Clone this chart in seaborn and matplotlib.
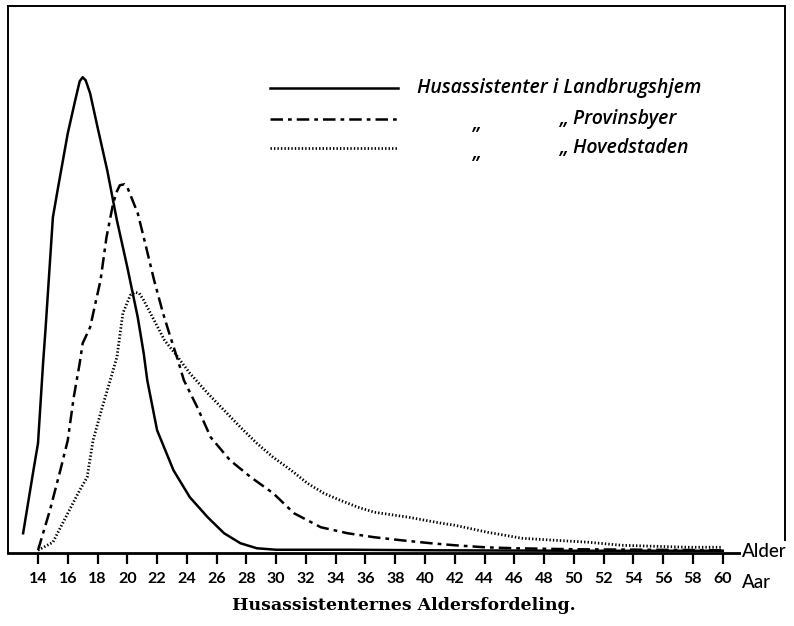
import pandas as pd
import numpy as np
import matplotlib.pyplot as plt
import seaborn as sns

# Values (relative frequency, arbitrary units)
land_age = [13.0, 13.66, 14.0, 14.34, 14.5, 15.0, 15.35, 16.0, 16.5, 16.8, 17.0, 17.2, 17.5,
            18.0, 18.65, 19.3, 20.0, 20.7, 21.1, 21.34, 22.0, 23.1, 24.2, 25.4, 26.5,
            27.6, 28.7, 30.0, 35.0, 40.0, 50.0, 60.0]
land_val = [18, 78, 108, 188, 221, 334, 364, 418, 451, 470, 474, 471, 458,
            424, 381, 331, 284, 234, 198, 171, 121, 81, 54, 34, 18,
            8, 3, 1.5, 1.5, 1, 0.5, 0.5]

prov_age = [14.0, 14.8, 15.5, 16.0, 16.4, 16.8, 17.0, 17.5, 18.2, 18.6, 19.05, 19.3, 19.5,
            19.8, 20.0, 20.7, 21.2, 21.8, 22.4, 22.9, 23.4, 23.8, 24.7, 25.6, 26.9,
            28.3, 29.8, 31.2, 33.0, 34.8, 36.6, 38.4, 40.4, 42.0, 44.0, 46.0, 50.0,
            55.0, 60.0]
prov_val = [1, 41, 81, 111, 154, 188, 208, 224, 271, 314, 348, 360, 366,
            367, 364, 338, 308, 271, 238, 214, 191, 171, 144, 114, 91,
            74, 58, 38, 24, 18, 14, 11, 8, 6, 4, 3, 2,
            1.5, 1]

hov_age = [14.0, 15.0, 16.0, 16.8, 17.3, 17.7, 18.2, 18.85, 19.3, 19.7, 20.2, 20.5, 20.8,
           21.1, 21.8, 22.5, 23.4, 24.2, 25.4, 26.5, 27.6, 28.7, 29.8, 31.0, 32.1,
           33.2, 34.3, 35.5, 36.6, 38.9, 41.1, 42.0, 44.2, 46.5, 48.7, 51.0, 53.2,
           55.4, 57.7, 60.0]
hov_val = [1, 9, 38, 61, 74, 111, 138, 171, 194, 238, 256, 259, 258,
           251, 231, 211, 194, 178, 158, 141, 124, 108, 94, 81, 68,
           58, 51, 44, 39, 34, 28, 26, 19, 13, 11, 9, 6,
           5, 4, 4]

ticks = list(range(14, 61, 2))

DASHDOT = (0, (5, 2, 1.5, 2))
DOTTED = (0, (0.5, 0.75))

fig = plt.figure(figsize=(7.94, 6.26), dpi=100)
ax = fig.add_axes([0.010, 0.117, 0.979, 0.873])

sns.lineplot(x=land_age, y=land_val, ax=ax, color="black", lw=1.8,
             linestyle="-", sort=False)
sns.lineplot(x=prov_age, y=prov_val, ax=ax, color="black", lw=1.8,
             linestyle=DASHDOT, sort=False)
sns.lineplot(x=hov_age, y=hov_val, ax=ax, color="black", lw=2.0,
             linestyle=DOTTED, sort=False)

ax.set_xlim(11.98, 64.2)
ax.set_ylim(-1.5, 545)
ax.set_yticks([])
ax.set_xticks(ticks)
ax.set_xticklabels([str(t) for t in ticks], fontsize=11.5, fontweight="bold",
                   family="Lato")
ax.tick_params(axis="x", direction="out", length=8, width=1.6, pad=6)
for s in ax.spines.values():
    s.set_linewidth(1.4)
ax.spines["bottom"].set_linewidth(2)

# "Alder" breaks the baseline at the right end, "Aar" after the tick labels
ax.text(61.3, 0, "Alder", fontsize=13.5, family="Lato", fontweight="medium",
        ha="left", va="center", bbox=dict(fc="white", ec="none", pad=1.0),
        clip_on=False, zorder=5)
ax.text(61.3, -31, "Aar", fontsize=13.5, family="Lato", fontweight="medium",
        ha="left", va="center", clip_on=False)

# legend, drawn by hand to keep the ditto marks
leg_y = [0.850, 0.793, 0.740]
leg_styles = [("-", 1.8), (DASHDOT, 1.8), (DOTTED, 2.0)]
for yy, (ls, lw) in zip(leg_y, leg_styles):
    ax.plot([0.337, 0.502], [yy, yy], transform=ax.transAxes, color="black",
            linestyle=ls, lw=lw)
tkw = dict(transform=ax.transAxes, fontsize=14, family="Open Sans",
           style="italic", fontweight="semibold", va="center")
ax.text(0.526, leg_y[0], "Husassistenter i Landbrugshjem", ha="left", **tkw)
for yy, name in zip(leg_y[1:], ["Provinsbyer", "Hovedstaden"]):
    ax.text(0.604, yy - 0.008, "\u201e", ha="center", **tkw)
    ax.text(0.710, yy, "\u201e " + name, ha="left", **tkw)

fig.text(0.508, 1 - 605 / 626, "Husassistenternes Aldersfordeling.",
         ha="center", va="center", fontsize=12.5, family="DejaVu Serif",
         fontweight="bold")

plt.savefig("out.png", dpi=100)
